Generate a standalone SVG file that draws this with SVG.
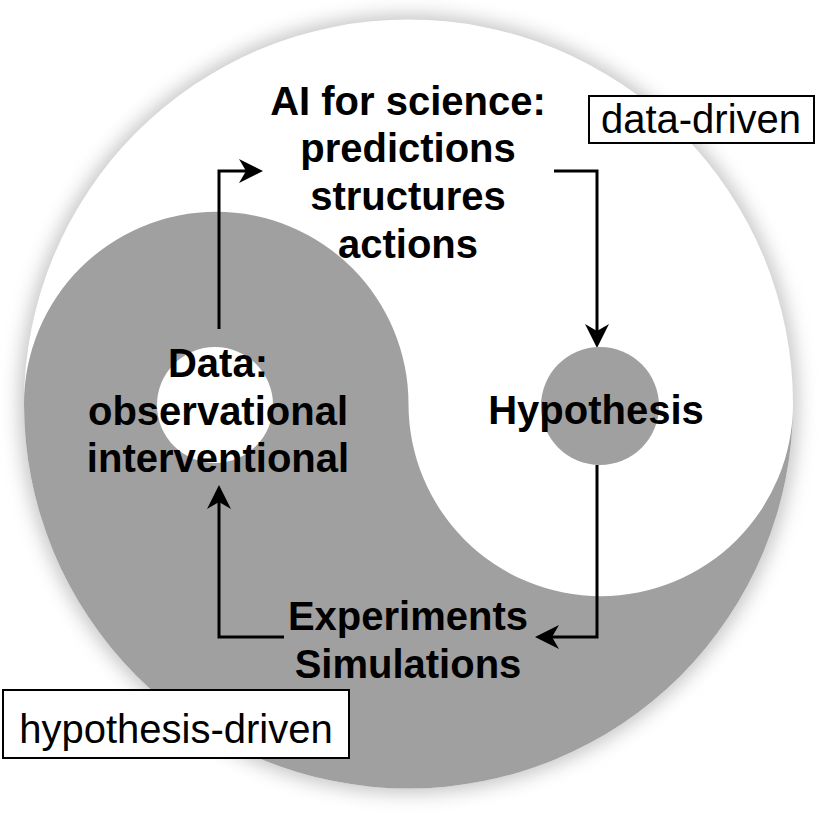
<svg xmlns="http://www.w3.org/2000/svg" width="820" height="814" viewBox="0 0 820 814">
  <style>
    .lbl { font-family: "Liberation Sans", Arial, sans-serif; font-size: 40px; font-weight: bold; fill: #000; text-anchor: middle; }
    .tag { font-family: "Liberation Sans", Arial, sans-serif; font-size: 40px; fill: #000; text-anchor: middle; }
    .box { fill: #fff; stroke: #000; stroke-width: 2; }
    .conn { fill: none; stroke: #000; stroke-width: 3; }
  </style>
  <defs>
    <filter id="glow" x="-20%" y="-20%" width="140%" height="140%">
      <feGaussianBlur stdDeviation="9"/>
    </filter>
    <marker id="arrow" markerUnits="userSpaceOnUse" viewBox="-10 -15 30 30" markerWidth="30" markerHeight="30" refX="0" refY="0" orient="auto">
      <path d="M17,0 L-7,-12 L0,0 L-7,12 Z" fill="#000"/>
    </marker>
  </defs>
  <rect width="820" height="814" fill="#fff"/>
  <g id="yinyang">
    <circle cx="408.5" cy="404" r="390" fill="#c8c8c8" filter="url(#glow)"/>
    <circle cx="408.5" cy="404" r="384.5" fill="#fff"/>
    <path d="M24,404 A384.5,384.5 0 0 0 793,404 A192.25,192.25 0 0 1 408.5,404 A192.25,192.25 0 0 0 24,404 Z" fill="#a0a0a0"/>
  </g>
  <g id="connectors">
    <path class="conn" d="M219,329 L219,171 L246,171" marker-end="url(#arrow)"/>
    <path class="conn" d="M554,171 L597,171 L597,331" marker-end="url(#arrow)"/>
    <path class="conn" d="M597,465 L597,637 L552,637" marker-end="url(#arrow)"/>
    <path class="conn" d="M284,637 L219,637 L219,502" marker-end="url(#arrow)"/>
  </g>
  <g id="ai">
    <text class="lbl" x="408" y="115">AI for science:</text>
    <text class="lbl" x="408" y="162">predictions</text>
    <text class="lbl" x="408" y="210">structures</text>
    <text class="lbl" x="408" y="258">actions</text>
  </g>
  <g id="data">
    <circle cx="215" cy="405" r="58" fill="#fff"/>
    <text class="lbl" x="218" y="377">Data:</text>
    <text class="lbl" x="218" y="425">observational</text>
    <text class="lbl" x="218" y="472">interventional</text>
  </g>
  <g id="hypothesis">
    <circle cx="600" cy="406" r="59" fill="#a0a0a0"/>
    <text class="lbl" x="596" y="424">Hypothesis</text>
  </g>
  <g id="experiments">
    <text class="lbl" x="408" y="630">Experiments</text>
    <text class="lbl" x="408" y="678">Simulations</text>
  </g>
  <g id="data-driven">
    <rect class="box" x="589" y="96" width="225" height="47"/>
    <text class="tag" x="701" y="133">data-driven</text>
  </g>
  <g id="hypothesis-driven">
    <rect class="box" x="3" y="690" width="346" height="68"/>
    <text class="tag" x="176" y="743">hypothesis-driven</text>
  </g>
</svg>
